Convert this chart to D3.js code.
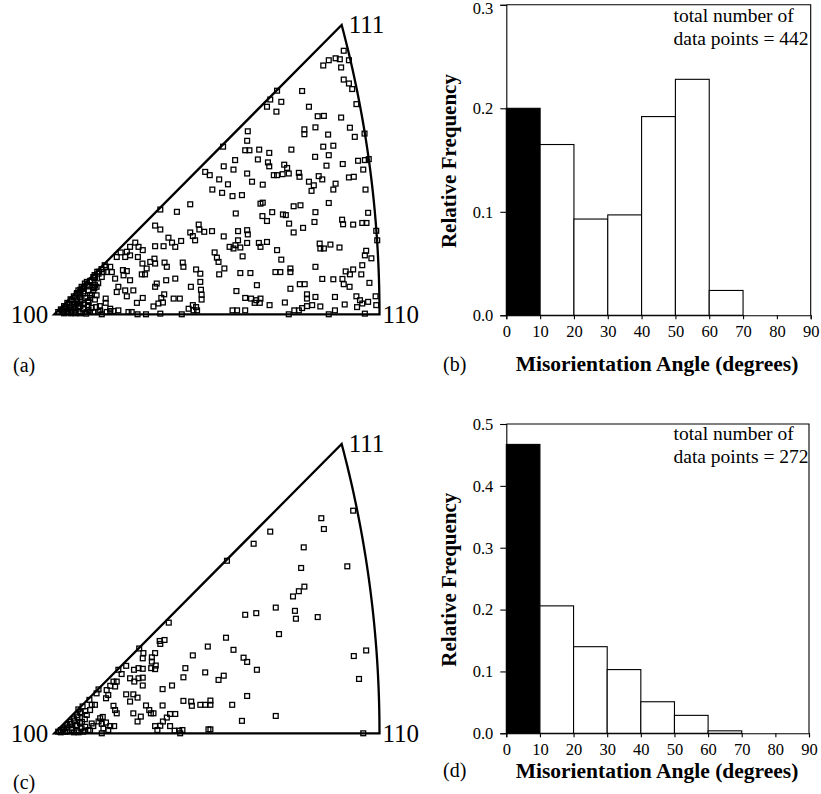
<!DOCTYPE html>
<html><head><meta charset="utf-8">
<script src="https://cdn.jsdelivr.net/npm/d3@7"></script>
<style>
body{margin:0;background:#fff}
svg{display:block}
text{font-family:"Liberation Serif","Times New Roman",serif;fill:#000}
</style>
</head><body>
<svg id="chart" width="821" height="794"></svg>
<script>
// ---------- data ----------
const binStarts = [0, 10, 20, 30, 40, 50, 60, 70, 80];
const binWidth = 10;
const freqB = [0.200, 0.165, 0.093, 0.097, 0.192, 0.228, 0.024, 0, 0];
const freqD = [0.467, 0.206, 0.140, 0.103, 0.051, 0.029, 0.004, 0, 0];
const xTickValues = [0, 10, 20, 30, 40, 50, 60, 70, 80, 90];
const yTicksB = [0, 0.1, 0.2, 0.3];
const yTicksD = [0, 0.1, 0.2, 0.3, 0.4, 0.5];
const totalB = 442;
const totalD = 272;
const cornerLabels = ["100", "110", "111"];
const panelLabels = ["(a)", "(b)", "(c)", "(d)"];
const xTitle = "Misorientation Angle (degrees)";
const yTitle = "Relative Frequency";

// IPF positions: percent of the [100]-[110] edge (stereographic), [u, v]
const pointsA = [
[89.0,80.5],[82.7,76.0],[84.4,77.6],[86.5,78.2],[87.8,77.9],[90.6,77.6],[88.2,75.4],[89.0,71.7],[90.6,70.5],[91.6,68.8],
[76.2,68.2],[68.5,68.3],[66.4,65.6],[69.8,64.9],[65.4,63.4],[68.3,61.9],[92.9,64.2],[78.3,63.4],[81.0,60.5],[82.9,60.6],
[88.2,60.1],[80.3,57.1],[76.9,56.5],[76.9,55.0],[90.9,57.0],[84.2,54.9],[95.4,55.2],[92.4,54.2],[59.5,55.9],[59.3,53.0],
[58.7,50.1],[60.0,50.1],[63.0,50.3],[82.7,51.2],[85.8,51.5],[72.9,50.3],[66.1,49.3],[84.4,48.6],[80.2,48.1],[51.9,51.2],
[55.6,47.1],[62.6,47.3],[65.7,46.4],[66.1,45.2],[96.7,47.4],[95.5,47.1],[93.4,46.9],[88.7,45.9],[83.7,45.4],[70.7,45.7],
[71.6,44.7],[52.1,45.2],[55.1,44.2],[46.4,43.5],[47.8,42.5],[59.3,43.0],[67.5,42.5],[68.5,42.5],[70.2,42.8],[72.1,43.0],
[75.2,43.2],[75.4,42.0],[81.3,42.2],[82.4,41.2],[90.6,41.8],[92.1,42.0],[95.0,44.2],[50.7,41.2],[60.8,40.5],[53.4,39.7],
[64.1,39.6],[78.3,40.5],[79.8,39.4],[79.1,37.7],[86.5,39.9],[85.8,38.1],[48.6,38.1],[51.6,37.1],[54.8,36.1],[57.7,36.4],
[95.7,38.1],[41.8,33.6],[63.4,33.8],[64.1,34.1],[73.6,33.0],[75.7,33.3],[84.4,34.0],[37.7,31.3],[32.6,32.0],[55.8,30.8],
[67.0,31.2],[64.0,30.0],[65.4,28.5],[70.3,30.5],[71.2,30.3],[80.3,31.2],[96.5,31.0],[88.5,28.9],[88.8,27.5],[94.7,27.9],
[96.0,27.9],[91.9,27.4],[80.0,28.2],[72.2,27.7],[76.5,26.4],[73.6,25.0],[44.4,27.4],[44.6,25.9],[41.8,25.0],[42.6,23.9],
[43.3,22.6],[46.1,25.2],[48.5,25.4],[31.0,27.1],[32.6,25.9],[52.1,23.8],[56.5,25.4],[59.3,25.7],[59.5,24.4],[99.0,25.5],
[35.1,23.4],[36.2,21.9],[37.2,20.6],[39.0,22.4],[24.9,21.9],[25.9,20.6],[27.2,19.6],[23.3,20.6],[31.0,20.8],[33.6,20.8],
[56.5,22.6],[55.7,21.1],[53.9,20.6],[55.1,20.1],[57.2,20.4],[59.3,21.8],[62.9,21.8],[63.4,20.6],[65.4,22.1],[99.3,22.6],
[81.6,21.6],[81.8,20.1],[82.9,20.1],[84.9,21.3],[87.7,20.4],[95.9,19.4],[95.5,18.0],[68.5,19.6],[49.3,18.9],[50.0,17.3],
[50.5,16.0],[57.9,17.7],[20.4,18.9],[21.8,17.5],[22.3,19.1],[23.3,18.0],[19.2,17.5],[25.7,17.5],[30.8,17.0],[31.0,15.5],
[29.5,16.0],[69.8,16.7],[97.5,17.1],[33.9,15.8],[34.6,14.5],[39.5,15.8],[39.7,14.5],[27.1,15.5],[28.4,14.0],[26.9,12.2],
[27.9,12.2],[15.9,14.5],[16.1,12.9],[17.2,14.5],[17.7,12.9],[15.1,12.9],[21.1,13.5],[21.3,11.9],[22.3,13.2],[43.6,13.7],
[44.9,12.4],[52.3,14.0],[50.7,12.2],[57.2,12.6],[60.3,12.6],[68.0,12.9],[69.5,12.9],[72.6,14.0],[72.6,12.9],[80.3,14.5],
[94.7,15.0],[89.6,13.1],[90.9,12.2],[91.9,13.7],[94.4,12.2],[37.2,10.9],[31.5,9.4],[31.0,8.4],[34.4,10.4],[13.2,13.0],
[14.6,11.4],[12.0,11.4],[11.0,9.9],[12.5,8.9],[18.7,10.9],[23.3,10.4],[19.7,8.4],[19.2,6.8],[21.8,7.3],[22.3,5.5],
[24.3,7.3],[44.9,9.9],[82.4,10.8],[85.8,10.7],[88.6,10.8],[89.0,9.2],[90.8,8.4],[96.9,9.6],[42.0,8.4],[62.3,8.9],
[75.5,9.2],[77.0,9.2],[72.6,7.8],[45.1,7.5],[45.3,6.0],[45.3,4.5],[56.0,7.1],[33.8,6.1],[32.9,5.0],[33.4,3.6],
[32.0,3.3],[30.5,2.4],[36.7,4.8],[38.6,4.8],[27.2,5.0],[25.4,3.5],[15.8,4.8],[15.8,3.5],[17.2,1.7],[11.0,5.8],
[13.0,5.8],[77.7,6.1],[77.7,4.8],[80.3,5.3],[86.3,5.3],[92.9,5.5],[94.0,4.3],[94.7,3.3],[98.8,5.5],[99.0,2.8],
[96.5,3.8],[58.7,5.0],[60.5,4.8],[62.1,4.3],[63.2,3.5],[61.6,3.5],[63.4,4.8],[70.9,3.6],[66.2,2.8],[81.8,2.4],
[79.3,2.8],[77.7,2.5],[76.2,1.9],[89.3,3.0],[93.1,2.2],[42.6,2.8],[43.6,2.2],[41.3,1.7],[42.8,1.2],[43.9,1.2],
[54.8,1.2],[56.2,1.2],[58.7,1.2],[73.8,1.2],[75.2,1.2],[86.3,1.2],[95.5,0.2],[84.4,0.0],[72.1,0.0],[39.2,0.0],
[32.6,0.2],[28.2,0.0],[25.6,0.0],[23.8,0.7],[22.8,0.7],[19.7,1.2],[18.2,1.0],[17.2,1.0],[14.1,1.2],[14.6,0.0],
[11.0,0.7],[9.8,0.2],[10.5,1.2],[5.3,1.2],[3.8,2.2],[4.3,0.7],
[1.2,0.7],[2.3,1.2],[3.3,1.7],[4.8,2.8],[5.9,3.8],[6.9,4.5],[7.9,5.3],[7.4,7.3],[8.4,8.4],[9.4,9.4],
[10.0,9.9],[11.5,10.4],[12.5,11.4],[13.6,12.4],[6.9,6.3],[5.3,4.3],[7.9,3.3],[8.9,1.7],[6.4,1.2],[7.4,2.2],
[6.9,3.3],[10.5,7.3],[12.0,7.3],[13.0,8.4],[10.5,3.8],[8.4,4.3],[10.0,0.7],[12.0,0.7],[13.6,0.7],[16.1,0.7],
[2.8,0.7],[3.8,0.7],[5.9,2.2],[8.9,6.3],[12.4,12.0],[15.5,15.0],
[2.0,1.5],[3.0,2.5],[4.0,3.5],[5.0,4.6],[6.0,5.5],[7.0,6.5],[8.0,7.5],[9.0,8.2],[10.0,9.0],[11.0,10.2],
[12.3,11.1],[13.8,13.0],[14.5,13.8],[4.0,1.5],[5.0,2.0],[6.0,3.0],[7.0,4.0],[8.0,2.5],[9.0,3.0],[9.5,5.0],
[11.0,5.0],[11.5,6.0],[9.0,7.0],[10.5,8.5],[6.0,1.8],[7.5,1.0],[11.5,2.0],[12.8,2.2],[14.0,2.5],[9.0,2.0],
[3.0,0.3],[5.0,0.3],[6.5,0.3],[8.0,0.3],[10.5,2.8],[12.5,4.5],[13.5,9.5],[8.5,7.8],[10.4,3.8],[7.9,6.5],
[12.0,8.3],[12.3,8.0],[10.4,4.0],[8.0,6.3]
];
const pointsC = [
[91.9,68.0],[82.1,65.7],[82.9,62.4],[66.4,61.6],[61.3,57.9],[76.7,56.8],[53.1,52.7],[90.1,51.0],[75.9,50.5],[76.9,44.8],
[75.2,43.4],[73.4,41.8],[68.1,38.4],[62.1,36.7],[58.7,36.2],[74.0,37.4],[74.3,35.0],[81.0,35.5],[35.2,33.8],[69.1,30.3],
[52.8,29.2],[32.4,28.2],[33.9,28.5],[32.6,27.3],[47.2,26.5],[55.1,25.5],[26.1,25.9],[27.4,24.5],[27.2,22.9],[30.0,23.2],
[31.0,24.5],[30.0,21.9],[29.8,19.9],[31.2,20.7],[31.0,19.6],[95.9,25.3],[92.1,23.6],[42.6,23.8],[58.2,23.1],[59.3,21.8],
[40.3,19.9],[39.7,17.1],[46.4,18.6],[62.3,19.4],[22.1,20.6],[19.7,19.4],[20.7,18.1],[24.5,19.4],[25.9,19.9],[27.2,19.7],
[23.3,16.8],[24.6,15.8],[25.9,16.8],[27.2,17.0],[27.2,14.6],[52.1,17.6],[50.5,16.3],[93.7,16.6],[18.2,15.8],[19.2,15.8],
[18.7,14.3],[17.2,14.5],[36.2,14.6],[33.3,13.5],[16.1,13.2],[16.6,11.7],[15.9,10.7],[22.1,11.9],[23.3,9.7],[24.3,11.9],
[25.6,10.9],[13.0,12.2],[13.6,13.4],[59.3,11.4],[39.7,9.9],[42.1,9.7],[42.3,8.4],[44.9,8.7],[46.4,8.7],[48.0,10.0],
[48.0,8.7],[54.7,8.7],[33.3,8.5],[28.2,8.5],[29.2,7.1],[29.7,6.1],[30.5,6.1],[18.2,8.4],[18.7,7.1],[19.2,6.1],
[10.8,10.2],[11.5,8.7],[11.0,7.1],[12.5,8.7],[24.3,6.1],[26.6,5.1],[25.6,3.6],[35.6,5.9],[37.2,5.9],[34.6,4.8],
[33.4,3.6],[32.6,2.3],[31.0,2.2],[31.7,1.0],[68.1,5.3],[57.7,3.8],[14.1,4.6],[14.9,5.0],[13.6,3.6],[14.6,2.9],
[15.1,1.5],[15.9,3.3],[17.2,2.2],[18.4,2.2],[16.6,1.0],[12.0,2.2],[35.6,2.2],[37.0,0.8],[38.4,0.8],[38.7,0.0],
[39.4,1.0],[47.4,1.2],[48.0,1.2],[95.0,0.0],[9.4,0.8],[11.0,0.8],[14.6,0.0],
[1.2,0.5],[2.6,1.2],[3.8,1.8],[4.8,2.9],[6.1,3.9],[7.1,4.9],[8.1,6.1],[7.4,7.3],[8.7,8.2],[5.3,1.0],
[6.9,1.0],[8.4,1.5],[7.9,3.1],[9.4,4.3],[10.0,5.6],[6.7,2.2],[8.9,0.5],[3.3,0.5],
[2.0,1.0],[3.0,1.5],[4.0,2.5],[5.0,3.5],[6.0,4.5],[7.0,5.5],[8.0,6.5],[4.0,0.5],[5.5,1.5],[7.0,2.5],
[8.5,3.5],[9.5,2.0],[10.5,1.0],[11.5,3.0],[6.0,0.3],[7.5,0.3],[9.5,6.8],[2.0,0.3]
];

// ---------- drawing ----------
const svg = d3.select("#chart");

// standard stereographic triangle geometry in the same percent units
const SCALE = 0.41421356 / 100;           // stereographic units per percent
const CX = -1 / SCALE, R = Math.SQRT2 / SCALE;
const V111 = 0.3660254 / SCALE;           // 111 pole at (V111, V111)

function drawIPF(points, yBottom, yTop) {
  const g = svg.append("g");
  const x = d3.scaleLinear().domain([0, 100]).range([54.3, 379.5]);
  const y = d3.scaleLinear().domain([0, V111]).range([yBottom, yTop]);
  const a1 = Math.atan2(V111, V111 - CX);
  const arc = d3.range(0, 41).map(i => {
    const a = a1 * i / 40;
    return [CX + R * Math.cos(a), R * Math.sin(a)];
  });
  const outline = [[0, 0]].concat(arc, [[V111, V111]]);
  const line = d3.line().x(d => x(d[0])).y(d => y(d[1]));
  g.append("path").attr("d", line(outline) + "Z")
    .attr("fill", "none").attr("stroke", "#000").attr("stroke-width", 2.3)
    .attr("stroke-linejoin", "miter");
  const s = 4.8;
  g.selectAll("rect.pt").data(points).join("rect")
    .attr("class", "pt")
    .attr("x", d => x(d[0]) - s / 2).attr("y", d => y(d[1]) - s / 2)
    .attr("width", s).attr("height", s)
    .attr("fill", "none").attr("stroke", "#000").attr("stroke-width", 1.3);
  const fs = 25;
  g.append("text").text(cornerLabels[0]).attr("x", x(0) - 6).attr("y", y(0) + 9)
    .attr("text-anchor", "end").style("font-size", fs + "px");
  g.append("text").text(cornerLabels[1]).attr("x", x(100) + 3).attr("y", y(0) + 9)
    .style("font-size", fs + "px");
  g.append("text").text(cornerLabels[2]).attr("x", x(V111) + 7).attr("y", y(V111) + 8)
    .style("font-size", fs + "px");
}

function drawHist(freq, yTicks, yMax, yBottom, yTop, xRight, total, textBase1, textBase2) {
  const g = svg.append("g");
  const x = d3.scaleLinear().domain([0, 90]).range([506.3, xRight]);
  const y = d3.scaleLinear().domain([0, yMax]).range([yBottom, yTop]);
  const bars = binStarts.map((b, i) => ({ b, v: freq[i], i })).filter(d => d.v > 0);
  g.selectAll("rect.bar").data(bars).join("rect")
    .attr("class", "bar")
    .attr("x", d => x(d.b)).attr("width", d => x(d.b + binWidth) - x(d.b))
    .attr("y", d => y(d.v)).attr("height", d => y(0) - y(d.v))
    .attr("fill", d => d.i === 0 ? "#000" : "#fff")
    .attr("stroke", "#000").attr("stroke-width", 1.1);
  g.append("path")
    .attr("d", `M${x(0)},${y(yMax)}H${x(90)}V${y(0)}`)
    .attr("fill", "none").attr("stroke", "#000").attr("stroke-width", 1.1);
  const ax = g.append("g").attr("transform", `translate(0,${y(0)})`)
    .call(d3.axisBottom(x).tickValues(xTickValues).tickSize(4).tickPadding(6).tickFormat(d3.format("d")));
  const ay = g.append("g").attr("transform", `translate(${x(0)},0)`)
    .call(d3.axisLeft(y).tickValues(yTicks).tickSize(6).tickPadding(7).tickFormat(d3.format(".1f")));
  [ax, ay].forEach(a => {
    a.selectAll("path,line").attr("stroke", "#000").attr("stroke-width", 1.1);
    a.selectAll("text").style("font-size", "16.5px").style("font-family", '"Liberation Serif",serif').attr("fill", "#000");
  });
  // keep the top tick label inside the picture
  ay.selectAll(".tick text").filter(d => d === yMax && y(yMax) < 8).attr("dy", "0.55em");
  g.append("text").attr("x", 673.5).attr("y", textBase1).style("font-size", "19.5px").text("total number of");
  g.append("text").attr("x", 673.5).attr("y", textBase2).style("font-size", "19.5px").text("data points = " + total);
  g.append("text").attr("transform", `translate(456,${(y(0) + y(yMax)) / 2 + 1}) rotate(-90)`)
    .attr("text-anchor", "middle").style("font-size", "21px").style("font-weight", "bold").text(yTitle);
  return g;
}

drawIPF(pointsA, 314.3, 25);
drawIPF(pointsC, 733.3, 444);

const gB = drawHist(freqB, yTicksB, 0.3, 315.3, 4.8, 810.7, totalB, 21.5, 44.5);
const gD = drawHist(freqD, yTicksD, 0.5, 733.3, 424, 809, totalD, 440, 463);

gB.append("text").attr("x", 657).attr("y", 371).attr("text-anchor", "middle")
  .style("font-size", "21.5px").style("font-weight", "bold").text(xTitle);
gD.append("text").attr("x", 657).attr("y", 778).attr("text-anchor", "middle")
  .style("font-size", "21.5px").style("font-weight", "bold").text(xTitle);

const panelPos = [[13, 372], [443, 371], [13, 789], [443, 777]];
panelLabels.forEach((t, i) => {
  svg.append("text").attr("x", panelPos[i][0]).attr("y", panelPos[i][1])
    .style("font-size", "20px").text(t);
});
</script>
</body></html>
